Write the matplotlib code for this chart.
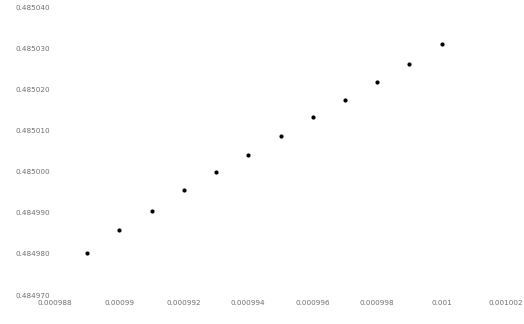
import numpy as np
import matplotlib.pyplot as plt

# Data
x_vals = [0.000989, 0.000990, 0.000991, 0.000992, 0.000993, 0.000994,
          0.000995, 0.000996, 0.000997, 0.000998, 0.000999, 0.001000]
y_vals = [0.4849803, 0.4849859, 0.4849903, 0.4849954, 0.4849998, 0.4850040,
          0.4850086, 0.4850133, 0.4850174, 0.4850218, 0.4850261, 0.4850310]

x_ticks = [0.000988, 0.00099, 0.000992, 0.000994, 0.000996, 0.000998, 0.001, 0.001002]
x_tick_labels = ['0.000988', '0.00099', '0.000992', '0.000994',
                 '0.000996', '0.000998', '0.001', '0.001002']
y_ticks = [0.48497, 0.48498, 0.48499, 0.48500, 0.48501, 0.48502, 0.48503, 0.48504]
y_tick_labels = ['0.484970', '0.484980', '0.484990', '0.485000',
                 '0.485010', '0.485020', '0.485030', '0.485040']

fig = plt.figure(figsize=(5.24, 3.24), dpi=100)
ax = fig.add_axes([55 / 524, 29 / 324, 451 / 524, 288 / 324])

ax.scatter(x_vals, y_vals, s=9, color='black', linewidths=0)

ax.set_xlim(0.000988, 0.001002)
ax.set_ylim(0.48497, 0.48504)
ax.set_xticks(x_ticks)
ax.set_xticklabels(x_tick_labels)
ax.set_yticks(y_ticks)
ax.set_yticklabels(y_tick_labels)

for s in ax.spines.values():
    s.set_visible(False)
ax.tick_params(axis='both', length=0, labelsize=5.2, labelcolor='#6e6e6e')
ax.tick_params(axis='x', pad=3.6)
ax.tick_params(axis='y', pad=3.6)

fig.savefig('out.png', dpi=100, facecolor='white')
